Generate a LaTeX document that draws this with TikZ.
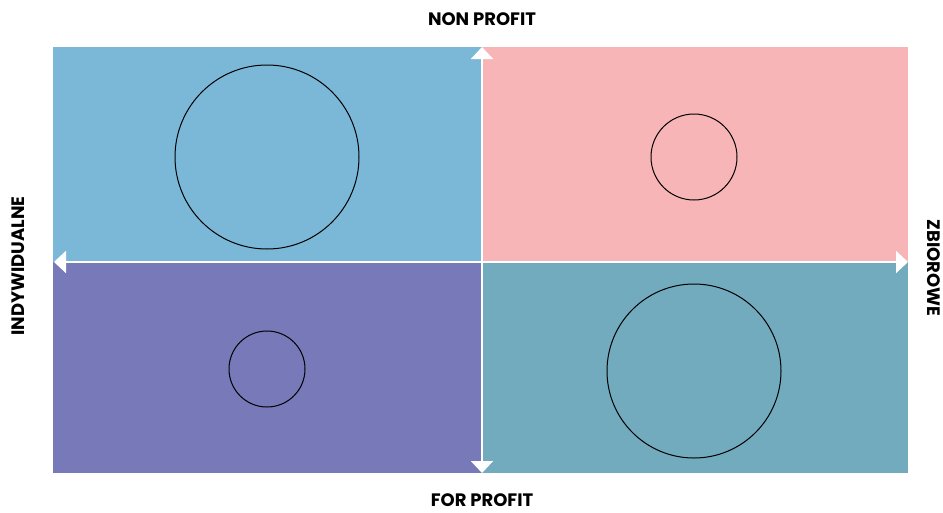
\documentclass[tikz,border=0pt]{standalone}
\usepackage{fontspec}
\setmainfont{Poppins}
\usetikzlibrary{arrows.meta}
\definecolor{qtl}{HTML}{7BB8D8}
\definecolor{qtr}{HTML}{F7B5B7}
\definecolor{qbl}{HTML}{7779B8}
\definecolor{qbr}{HTML}{72AABE}
\begin{document}
\begin{tikzpicture}[x=1pt,y=-1pt,
  axis/.style={draw=white,line width=2pt,-{Triangle[width=22pt,length=12pt]}},
  ring/.style={draw=black,line width=1pt},
  lbl/.style={font=\bfseries\fontsize{18}{18}\selectfont,text=black,inner sep=0pt,text depth=0pt}]
\useasboundingbox (0,0) rectangle (943,512);
\fill[qtl] (53,47) rectangle (482,262);
\fill[qtr] (482,47) rectangle (908,262);
\fill[qbl] (53,262) rectangle (482,473);
\fill[qbr] (482,262) rectangle (908,473);
\coordinate (c) at (482,262);
\coordinate (t) at (482,47);
\coordinate (b) at (482,473);
\coordinate (l) at (54,262);
\coordinate (r) at (908,262);
\draw[axis] (c) -- (t);
\draw[axis] (c) -- (b);
\draw[axis] (c) -- (l);
\draw[axis] (c) -- (r);
\draw[ring] (267,157) circle (92);
\draw[ring] (694,157) circle (43);
\draw[ring] (267,369) circle (38);
\draw[ring] (694,371) circle (87);
\node[lbl] (np) at (482,19) {NON PROFIT};
\node[lbl] (fp) at (482,500) {FOR PROFIT};
\node[lbl,rotate=90] (ind) at (18,266) {INDYWIDUALNE};
\node[lbl,rotate=-90] (zb) at (934,268) {ZBIOROWE};
\end{tikzpicture}
\end{document}
